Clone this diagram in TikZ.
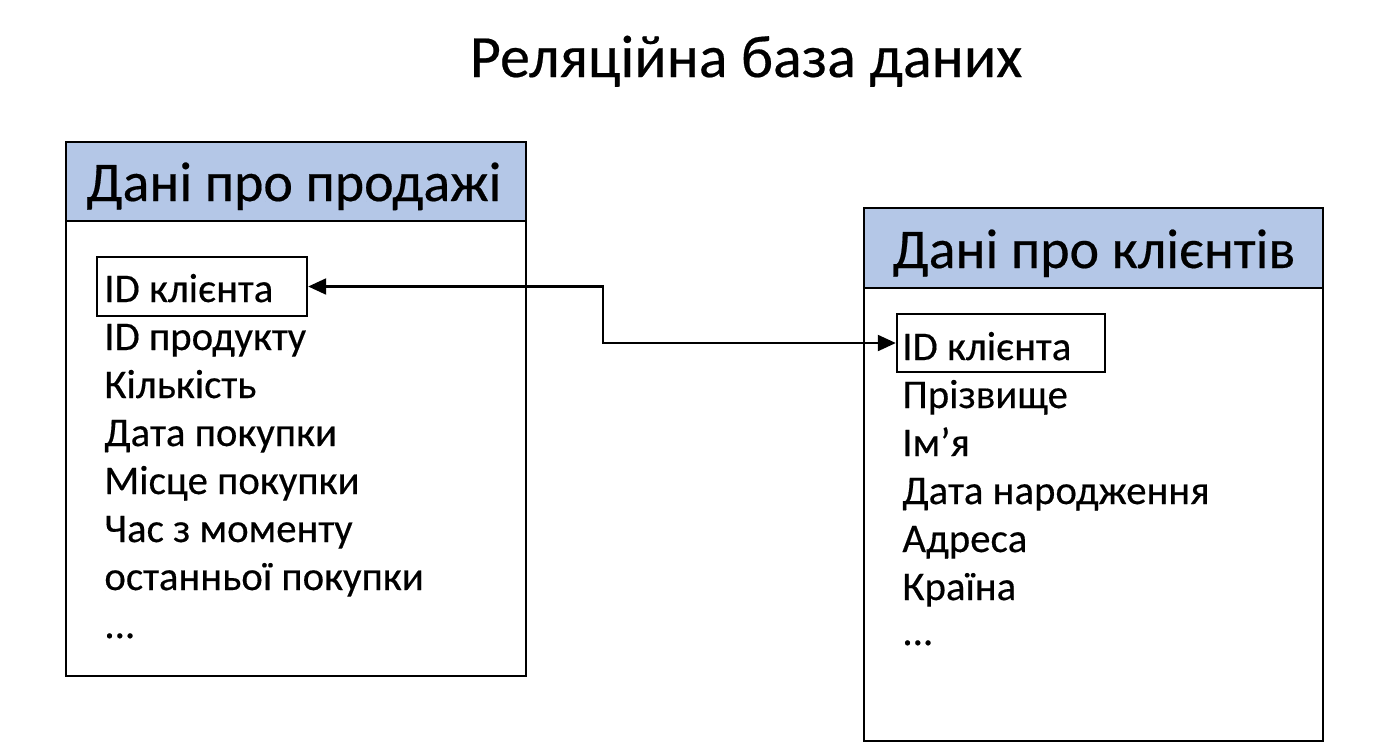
\documentclass[tikz,border=0pt]{standalone}
\usepackage{fontspec}
\setmainfont{Carlito}
\newfontfamily\diagfont{Carlito}[FakeBold=0.35]
\usetikzlibrary{arrows.meta}
\definecolor{hdr}{RGB}{180,199,231}
\begin{document}
\begin{tikzpicture}[x=0.5pt,y=-0.5pt,
  tblbody/.style={draw,line width=1.4pt},
  tblhead/.style={draw,fill=hdr,line width=1.4pt},
  keybox/.style={draw,line width=1.2pt,inner sep=0pt},
  item/.style={anchor=base west,inner sep=0pt,font=\diagfont\fontsize{20.4}{24}\selectfont},
  headtext/.style={anchor=base,inner sep=0pt,font=\diagfont\fontsize{28}{32}\selectfont},
  titletext/.style={anchor=base,inner sep=0pt,font=\diagfont\fontsize{30}{34}\selectfont},
  conn/.style={line width=1.1pt,{Triangle[length=9pt,width=8pt]}-{Triangle[length=9pt,width=8pt]}}]
\useasboundingbox (0,0) rectangle (1393,752);
\fill[white] (0,0) rectangle (1393,752);

% title
\node[titletext] (title) at (746,77) {Реляційна база даних};

% left table
\draw[tblhead] (66,142) rectangle (526,221);
\draw[tblbody] (66,221) rectangle (526,676);
\node[headtext] (lhead) at (294,201) {Дані про продажі};
\node[keybox,minimum width=105pt,minimum height=29.5pt] (lkey) at (202,286.5) {};
\node[item] (l1) at (104,302) {ID клієнта};
\node[item] (l2) at (104,350) {ID продукту};
\node[item] (l3) at (104,398) {Кількість};
\node[item] (l4) at (104,446) {Дата покупки};
\node[item] (l5) at (104,494) {Місце покупки};
\node[item] (l6) at (104,542) {Час з моменту};
\node[item] (l7) at (104,590) {останньої покупки};
\node[item] (l8) at (104,638) {...};

% right table
\draw[tblhead] (864,208) rectangle (1323,288);
\draw[tblbody] (864,288) rectangle (1323,741);
\node[headtext] (rhead) at (1094,268) {Дані про клієнтів};
\node[keybox,minimum width=104pt,minimum height=29pt] (rkey) at (1001,343) {};
\node[item] (r1) at (902,360) {ID клієнта};
\node[item] (r2) at (902,408) {Прізвище};
\node[item] (r3) at (902,456) {Ім’я};
\node[item] (r4) at (902,504) {Дата народження};
\node[item] (r5) at (902,552) {Адреса};
\node[item] (r6) at (902,600) {Країна};
\node[item] (r7) at (902,645) {...};

% connector
\coordinate (mid) at (603,0);
\draw[conn] (lkey.east) -- (lkey.east -| mid) -- (rkey.west -| mid) -- (rkey.west);
\end{tikzpicture}
\end{document}
